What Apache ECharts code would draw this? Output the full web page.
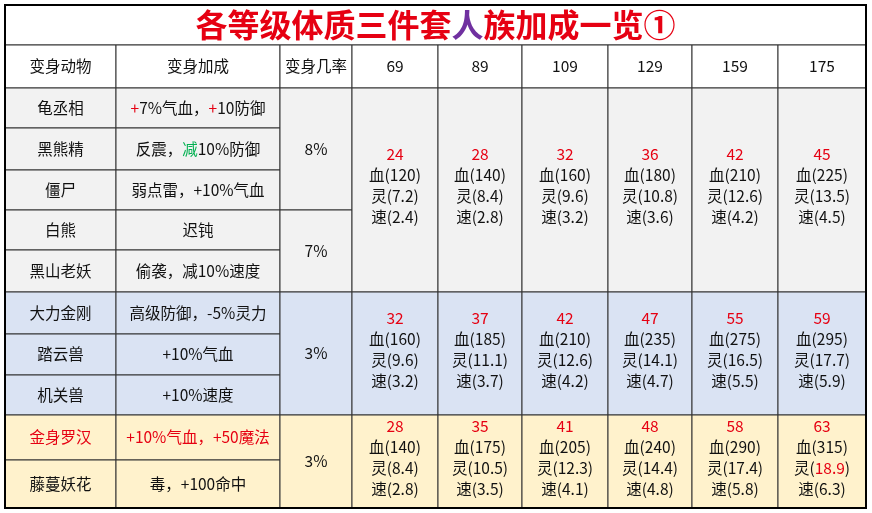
<!DOCTYPE html>
<html><head><meta charset="utf-8">
<script src="https://cdn.jsdelivr.net/npm/echarts@6/dist/echarts.min.js"></script>
<style>html,body{margin:0;padding:0;background:#fff}#c{width:872px;height:513px}</style>
</head><body><div id="c"></div>
<script>
const title = '各等级体质三件套{p|人}族加成一览①';
const headers = ['变身动物','变身加成','变身几率'];
const levels = ['69','89','109','129','159','175'];
const animals = ['龟丞相','黑熊精','僵尸','白熊','黑山老妖','大力金刚','踏云兽','机关兽','{r|金身罗汉}','藤蔓妖花'];
const bonuses = ['{r|+}7%气血，{r|+}10防御','反震，{g|减}10%防御','弱点雷，+10%气血','迟钝','偷袭，减10%速度','高级防御，-5%灵力','+10%气血','+10%速度','{r|+10%气血，+50魔法}','毒，+100命中'];
const rates = [['8%',1,3],['7%',4,5],['3%',6,8],['3%',9,10]];
const groups = [[1,5],[6,8],[9,10]];
const groupBg = ['#f2f2f2','#dae3f3','#fff2cc'];
const mainVals = [[24,28,32,36,42,45],[32,37,42,47,55,59],[28,35,41,48,58,63]];
const xue = [[120,140,160,180,210,225],[160,185,210,235,275,295],[140,175,205,240,290,315]];
const ling = [['7.2','8.4','9.6','10.8','12.6','13.5'],['9.6','11.1','12.6','14.1','16.5','17.7'],['8.4','10.5','12.3','14.4','17.4','18.9']];
const su = [['2.4','2.8','3.2','3.6','4.2','4.5'],['3.2','3.7','4.2','4.7','5.5','5.9'],['2.8','3.5','4.1','4.8','5.8','6.3']];
const colW = [111,164,72,86,84,86,84,86,88];
const rowH = [40,43,40,42,40,40,42,42,41,40,45,48];

const cx=[0]; colW.forEach(w=>cx.push(cx[cx.length-1]+w));
const ry=[0]; rowH.forEach(h=>ry.push(ry[ry.length-1]+h));
const cells=[];
function add(c0,c1,r0,r1,text,bg,opt){cells.push({value:[cx[c0],cx[c1],ry[r0],ry[r1]],text,bg,opt:opt||{}});}
add(0,9,0,1,title,'#fff',{title:true});
headers.forEach((h,i)=>add(i,i+1,1,2,h,'#fff'));
levels.forEach((l,i)=>add(3+i,4+i,1,2,l,'#fff'));
function gIdx(r){return groups.findIndex(g=>r>=g[0]&&r<=g[1]);}
animals.forEach((a,i)=>{const bg=groupBg[gIdx(i+1)];add(0,1,i+2,i+3,a,bg);add(1,2,i+2,i+3,bonuses[i],bg);});
rates.forEach(r=>add(2,3,r[1]+1,r[2]+2,r[0],groupBg[gIdx(r[1])]));
groups.forEach((g,gi)=>levels.forEach((l,li)=>{
  const lv = (gi===2&&li===5)?'{r|'+ling[gi][li]+'}':ling[gi][li];
  add(3+li,4+li,g[0]+1,g[1]+2,'{r|'+mainVals[gi][li]+'}\n血('+xue[gi][li]+')\n灵('+lv+')\n速('+su[gi][li]+')',groupBg[gi],{multi:true});
}));

const font='"Noto Sans CJK SC","Noto Sans",sans-serif';
const chart=echarts.init(document.getElementById('c'));
chart.setOption({
  animation:false,
  grid:{left:5,right:6,top:5,bottom:5},
  xAxis:{type:'value',min:0,max:cx[cx.length-1],show:false},
  yAxis:{type:'value',min:0,max:ry[ry.length-1],inverse:true,show:false},
  series:[{type:'custom',data:cells.map(c=>c.value),
    renderItem:(params,api)=>{
      const c=cells[params.dataIndex];
      const p0=api.coord([api.value(0),api.value(2)]);
      const p1=api.coord([api.value(1),api.value(3)]);
      const w=p1[0]-p0[0],h=p1[1]-p0[1];
      const isT=c.opt.title;
      const f=(isT?'bold 32px ':'15.5px ')+font;
      const lh=c.opt.multi?21:20;
      return {type:'group',children:[
        {type:'rect',shape:{x:p0[0],y:p0[1],width:w,height:h},style:{fill:c.bg,stroke:'#333',lineWidth:1}},
        {type:'text',style:{text:c.text,x:p0[0]+w/2,y:p0[1]+h/2+(c.opt.multi?-4:0),align:'center',verticalAlign:'middle',
          font:f,fill:isT?'#e60012':'#111',lineHeight:lh,
          rich:{r:{fill:'#e60012',font:f,lineHeight:lh},
                p:{fill:'#7030a0',font:f},
                g:{fill:'#00b050',font:f}}}}
      ]};
    }}],
  graphic:[{type:'rect',shape:{x:5,y:5,width:861,height:503},style:{fill:'none',stroke:'#000',lineWidth:2},z:100}]
});
</script></body></html>
